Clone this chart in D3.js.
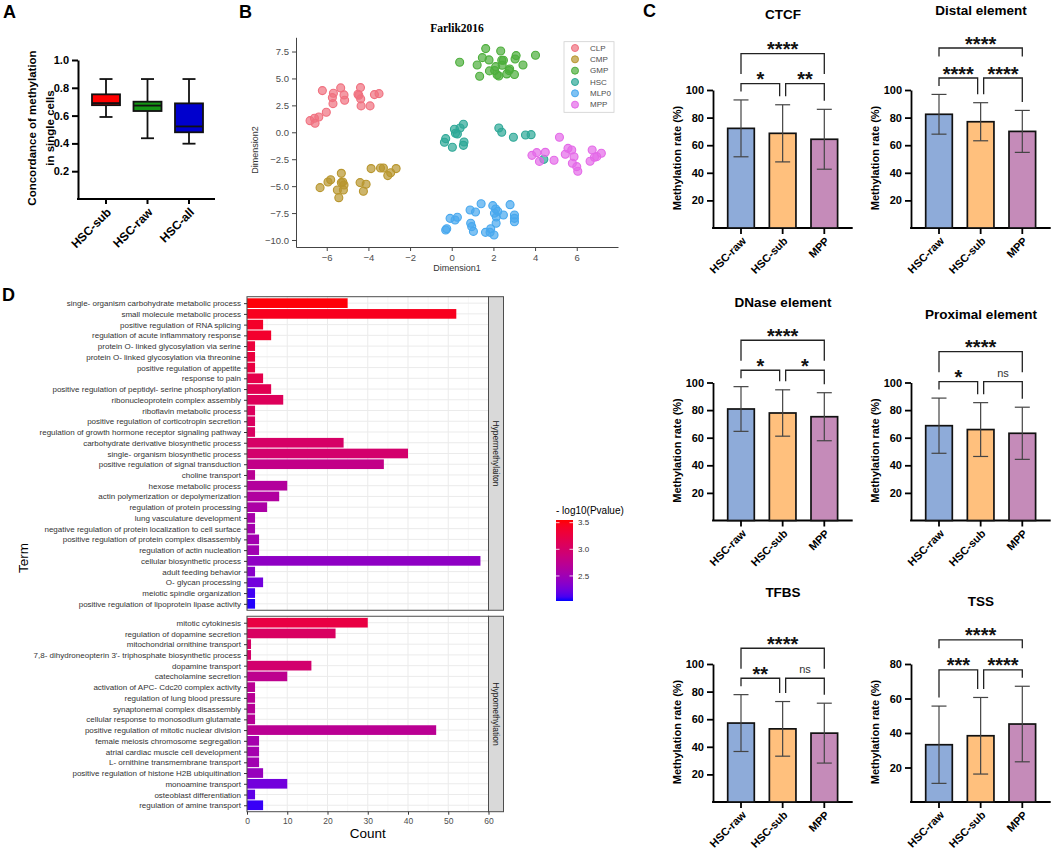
<!DOCTYPE html>
<html lang="en">
<head>
<meta charset="utf-8">
<title>Methylation figure</title>
<script src="https://cdn.jsdelivr.net/npm/d3@7"></script>
<style>
  body { margin: 0; background: #fff; }
  svg { display: block; font-family: "Liberation Sans", Arial, sans-serif; }
</style>
</head>
<body>
<svg id="fig" width="1052" height="850"></svg>
<script>
// ---------------- data ----------------
// A: concordance box plots (min, q1, median, q3, max)
const concGroups = ["HSC-sub", "HSC-raw", "HSC-all"];
const concStats = [
  [0.59, 0.675, 0.69, 0.753, 0.863],
  [0.437, 0.633, 0.672, 0.70, 0.863],
  [0.398, 0.48, 0.522, 0.688, 0.863]
];
const concColors = ["#ff0000", "#149414", "#0000cd"];
const concTicks = [0.2, 0.4, 0.6, 0.8, 1.0];

// B: Farlik2016 embedding, one array per cell type
const cellTypes = ["CLP", "CMP", "GMP", "HSC", "MLP0", "MPP"];
const cellColors = ["#f0707f", "#b8962e", "#4dae3c", "#2ea897", "#48a8ee", "#e46ae8"];
const clpPts = [[-6.8,1.08],[-6.59,1.30],[-6.56,0.84],[-6.38,1.42],[-6.02,1.86],[-6.21,3.87],[-5.73,3.22],
  [-5.70,2.66],[-5.68,3.62],[-5.33,4.12],[-5.17,3.47],[-5.14,2.97],[-4.50,3.53],[-4.38,4.15],[-4.37,3.10],
  [-4.46,3.44],[-4.35,2.45],[-3.92,2.45],[-3.71,3.50],[-3.49,3.59]];
const cmpPts = [[-6.32,-5.14],[-5.94,-4.61],[-5.81,-4.40],[-5.30,-3.81],[-5.23,-4.61],[-5.17,-4.89],[-5.20,-5.36],
  [-5.49,-5.36],[-5.42,-6.07],[-4.40,-4.67],[-4.11,-4.83],[-4.24,-5.48],[-3.87,-3.37],[-3.42,-3.31],[-3.28,-3.31],
  [-3.07,-4.02],[-2.93,-3.75],[-2.67,-3.37],[-5.30,-4.67]];
const gmpPts = [[0.38,6.50],[1.22,6.25],[1.47,6.93],[1.63,7.77],[1.79,6.72],[1.34,5.20],[1.81,5.70],[2.06,5.73],
  [2.11,6.10],[2.18,5.33],[2.26,5.23],[2.35,7.55],[2.40,6.69],[2.48,6.69],[2.42,6.22],[2.75,5.73],[2.78,5.88],
  [3.01,5.36],[3.09,7.12],[3.04,6.81],[3.42,6.25],[4.02,7.15],[2.64,5.42]];
const hscPts = [[-0.35,-0.93],[-0.29,-0.59],[0.03,-1.39],[0.13,0.28],[0.18,-0.09],[0.27,-0.15],[0.40,0.40],
  [0.56,0.74],[0.59,-0.90],[0.56,-1.21],[2.26,0.40],[2.40,0.0],[2.96,-0.46],[3.54,-0.25],[3.81,-0.22],[4.42,-2.51]];
const mlpPts = [[-0.29,-9.07],[-0.24,-8.95],[-0.08,-7.99],[0.16,-8.14],[0.27,-7.89],[0.88,-7.21],[1.14,-7.40],
  [0.91,-8.45],[0.96,-8.76],[1.04,-9.20],[1.41,-6.63],[1.62,-9.29],[1.87,-8.95],[1.97,-6.81],[2.05,-7.52],
  [2.11,-7.12],[2.14,-7.86],[2.13,-8.45],[2.03,-9.54],[2.21,-7.34],[2.48,-7.68],[2.80,-6.72],[3.01,-7.68],
  [3.01,-7.99],[3.01,-8.30],[1.84,-9.29]];
const mppPts = [[3.85,-2.14],[4.08,-1.89],[4.21,-2.70],[4.49,-1.86],[4.91,-2.60],[5.17,-0.46],[5.45,-2.04],
  [5.58,-1.49],[5.76,-1.64],[5.87,-2.27],[5.79,-2.88],[6.0,-3.19],[6.05,-3.62],[6.64,-2.69],[6.74,-1.64],
  [6.85,-2.32],[6.96,-2.26],[7.18,-1.95]];
const cellPts = [clpPts, cmpPts, gmpPts, hscPts, mlpPts, mppPts];

// C: methylation rate by genomic region (mean, sd)
const regionNames = ["CTCF", "Distal element", "DNase element", "Proximal element", "TFBS", "TSS"];
const sampleNames = ["HSC-raw", "HSC-sub", "MPP"];
const sampleColors = ["#8eabd9", "#ffc07d", "#c58bb9"];
const rateMeans = [[72.2,68.6,64.3],[82.4,77.0,70.0],[80.8,77.9,75.2],[68.7,65.9,63.2],[57.2,53.0,49.9],[33.2,38.4,45.2]];
const rateSD = [[20.6,20.7,21.7],[14.4,13.8,15.2],[16.2,16.8,17.4],[20.0,19.5,18.9],[20.6,19.8,21.7],[22.4,22.2,21.9]];
const rateMax = [100, 100, 100, 100, 100, 80];
const rateTicks = [[20,40,60,80,100],[20,40,60,80,100],[20,40,60,80,100],[20,40,60,80,100],[20,40,60,80,100],[20,40,60,80]];
// significance: raw vs sub, sub vs MPP, raw vs MPP
const sigLabels = [["*","**","****"],["****","****","****"],["*","*","****"],["*","ns","****"],["**","ns","****"],["***","****","****"]];

// D: GO terms
const hyperTerms = ["single- organism carbohydrate metabolic process","small molecule metabolic process",
  "positive regulation of RNA splicing","regulation of acute inflammatory response",
  "protein O- linked glycosylation via serine","protein O- linked glycosylation via threonine",
  "positive regulation of appetite","response to pain","positive regulation of peptidyl- serine phosphorylation",
  "ribonucleoprotein complex assembly","riboflavin metabolic process","positive regulation of corticotropin secretion",
  "regulation of growth hormone receptor signaling pathway","carbohydrate derivative biosynthetic process",
  "single- organism biosynthetic process","positive regulation of signal transduction","choline transport",
  "hexose metabolic process","actin polymerization or depolymerization","regulation of protein processing",
  "lung vasculature development","negative regulation of protein localization to cell surface",
  "positive regulation of protein complex disassembly","regulation of actin nucleation",
  "cellular biosynthetic process","adult feeding behavior","O- glycan processing","meiotic spindle organization",
  "positive regulation of lipoprotein lipase activity"];
const hyperCounts = [25,52,4,6,2,2,2,4,6,9,2,2,2,24,40,34,2,10,8,5,2,2,3,3,58,2,4,2,2];
const hyperLogP = [3.53,3.45,3.40,3.38,3.30,3.28,3.26,3.20,3.15,3.10,3.08,3.06,3.05,3.02,2.98,2.80,2.72,
  2.66,2.64,2.60,2.57,2.55,2.53,2.52,2.40,2.36,2.25,2.10,2.05];
const hypoTerms = ["mitotic cytokinesis","regulation of dopamine secretion","mitochondrial ornithine transport",
  "7,8- dihydroneopterin 3'- triphosphate biosynthetic process","dopamine transport","catecholamine secretion",
  "activation of APC- Cdc20 complex activity","regulation of lung blood pressure","synaptonemal complex disassembly",
  "cellular response to monosodium glutamate","positive regulation of mitotic nuclear division",
  "female meiosis chromosome segregation","atrial cardiac muscle cell development",
  "L- ornithine transmembrane transport","positive regulation of histone H2B ubiquitination",
  "monoamine transport","osteoblast differentiation","regulation of amine transport"];
const hypoCounts = [30,22,1,1,16,10,2,2,2,2,47,3,3,3,4,10,2,4];
const hypoLogP = [3.25,3.05,3.02,3.00,2.97,2.75,2.72,2.71,2.70,2.70,2.72,2.55,2.54,2.52,2.45,2.25,2.18,2.08];
const logPRange = [2.03, 3.55];
const logPTicks = [2.5, 3.0, 3.5];

// ---------------- drawing ----------------
const svg = d3.select("#fig");

function panelLabel(t, x, y) {
  svg.append("text").attr("x", x).attr("y", y).text(t)
    .attr("font-size", 18).attr("font-weight", "bold");
}
panelLabel("A", 3, 18);
panelLabel("B", 239, 18);
panelLabel("C", 643, 17);
panelLabel("D", 2, 301);

// ===== A =====
const aY = d3.scaleLinear().domain([0, 1]).range([199, 60]);
const aX = d3.scalePoint().domain(concGroups).range([106, 189]);
const gA = svg.append("g");
gA.append("g").attr("transform", "translate(78,0)")
  .call(d3.axisLeft(aY).tickValues(concTicks).tickFormat(d3.format(".1f")).tickSize(6).tickSizeOuter(0))
  .call(g => g.selectAll("path,line").attr("stroke", "#000").attr("stroke-width", 2))
  .call(g => g.selectAll("text").attr("font-size", 11).attr("font-weight", "bold").attr("fill", "#000")
    .attr("font-family", "Liberation Sans, Arial, sans-serif"));
gA.append("line").attr("x1", 77).attr("x2", 215).attr("y1", aY(0)).attr("y2", aY(0))
  .attr("stroke", "#000").attr("stroke-width", 2);
concGroups.forEach((g, i) => {
  const [mn, q1, md, q3, mx] = concStats[i];
  const cx = aX(g);
  gA.append("line").attr("x1", cx).attr("x2", cx).attr("y1", aY(0)).attr("y2", aY(0) + 5)
    .attr("stroke", "#000").attr("stroke-width", 2);
  gA.append("line").attr("x1", cx).attr("x2", cx).attr("y1", aY(mx)).attr("y2", aY(mn))
    .attr("stroke", "#111").attr("stroke-width", 1.8);
  [mn, mx].forEach(v => gA.append("line").attr("x1", cx - 6.5).attr("x2", cx + 6.5)
    .attr("y1", aY(v)).attr("y2", aY(v)).attr("stroke", "#111").attr("stroke-width", 1.8));
  gA.append("rect").attr("x", cx - 14).attr("width", 28).attr("y", aY(q3)).attr("height", aY(q1) - aY(q3))
    .attr("fill", concColors[i]).attr("stroke", "#111").attr("stroke-width", 1.8);
  gA.append("line").attr("x1", cx - 14).attr("x2", cx + 14).attr("y1", aY(md)).attr("y2", aY(md))
    .attr("stroke", "#111").attr("stroke-width", 1.8);
  gA.append("text").attr("transform", `translate(${cx + 3},${aY(0) + 11}) rotate(-45)`)
    .attr("text-anchor", "end").attr("dy", "0.35em").attr("font-size", 12).attr("font-weight", "bold").text(g);
});
gA.append("text").attr("transform", "translate(32,128) rotate(-90)").attr("text-anchor", "middle")
  .attr("dy", "0.35em").attr("font-size", 11.5).attr("font-weight", "bold").text("Concordance of methylation");
gA.append("text").attr("transform", "translate(50,128) rotate(-90)").attr("text-anchor", "middle")
  .attr("dy", "0.35em").attr("font-size", 11.5).attr("font-weight", "bold").text("in single cells");

// ===== B =====
const bX = d3.scaleLinear().domain([-7.475, 7.98]).range([296, 618]);
const bY = d3.scaleLinear().domain([-10.65, 8.82]).range([247, 37.3]);
const gB = svg.append("g");
const styleB = g => {
  g.selectAll("path,line").attr("stroke", "#444").attr("stroke-width", 1);
  g.selectAll("text").attr("font-size", 9.5).attr("fill", "#4d4d4d")
    .attr("font-family", "Liberation Sans, Arial, sans-serif");
};
gB.append("g").attr("transform", `translate(0,${bY.range()[0]})`)
  .call(d3.axisBottom(bX).tickValues([-6, -4, -2, 0, 2, 4, 6]).tickSize(4).tickSizeOuter(0)).call(styleB);
gB.append("g").attr("transform", `translate(${bX.range()[0]},0)`)
  .call(d3.axisLeft(bY).tickValues([-10, -7.5, -5, -2.5, 0, 2.5, 5, 7.5]).tickFormat(d3.format(".1f"))
    .tickSize(4).tickSizeOuter(0)).call(styleB);
cellTypes.forEach((c, i) => {
  gB.append("g").selectAll("circle").data(cellPts[i]).join("circle")
    .attr("cx", d => bX(d[0])).attr("cy", d => bY(d[1])).attr("r", 4)
    .attr("fill", cellColors[i]).attr("fill-opacity", 0.7)
    .attr("stroke", cellColors[i]).attr("stroke-width", 1.1);
});
gB.append("text").attr("x", 457).attr("y", 32).attr("text-anchor", "middle")
  .attr("font-family", "Liberation Serif, Times New Roman, serif").attr("font-weight", "bold")
  .attr("font-size", 11.5).text("Farlik2016");
gB.append("text").attr("x", 457).attr("y", 271).attr("text-anchor", "middle")
  .attr("font-size", 9).attr("fill", "#333").text("Dimension1");
gB.append("text").attr("transform", "translate(255,150) rotate(-90)").attr("text-anchor", "middle")
  .attr("dy", "0.35em").attr("font-size", 9).attr("fill", "#333").text("Dimension2");
// legend
const leg = gB.append("g");
leg.append("rect").attr("x", 564).attr("y", 41.7).attr("width", 50).attr("height", 70.6)
  .attr("fill", "#fff").attr("stroke", "#cfcfcf").attr("stroke-width", 0.8);
cellTypes.forEach((c, i) => {
  const y = 48 + i * 11.33;
  leg.append("circle").attr("cx", 575).attr("cy", y).attr("r", 3.5)
    .attr("fill", cellColors[i]).attr("fill-opacity", 0.7).attr("stroke", cellColors[i]).attr("stroke-width", 1);
  leg.append("text").attr("x", 590).attr("y", y).attr("dy", "0.35em")
    .attr("font-size", 8).attr("fill", "#4d4d4d").text(c);
});

// ===== C =====
const cCols = [713, 911];
const cRows = [228, 520.5, 802];
const cTitleY = [19, 15, 307, 319, 597, 606];
const gC = svg.append("g");
regionNames.forEach((name, k) => {
  const ax = cCols[k % 2], y0 = cRows[Math.floor(k / 2)];
  const y = d3.scaleLinear().domain([0, rateMax[k]]).range([y0, y0 - 138]);
  const x = d3.scalePoint().domain(sampleNames).range([ax + 28, ax + 111.3]);
  const g = gC.append("g");
  g.append("g").attr("transform", `translate(${ax},0)`)
    .call(d3.axisLeft(y).tickValues(rateTicks[k]).tickSize(6).tickSizeOuter(0))
    .call(s => s.selectAll("path,line").attr("stroke", "#000").attr("stroke-width", 1.8))
    .call(s => s.selectAll("text").attr("font-size", 11).attr("font-weight", "bold").attr("fill", "#000")
      .attr("font-family", "Liberation Sans, Arial, sans-serif"));
  g.append("line").attr("x1", ax - 0.9).attr("x2", ax + 139.7).attr("y1", y0).attr("y2", y0)
    .attr("stroke", "#000").attr("stroke-width", 1.8);
  const errTop = [];
  sampleNames.forEach((s, i) => {
    const cx = x(s), m = rateMeans[k][i], sd = rateSD[k][i];
    g.append("rect").attr("x", cx - 13.3).attr("width", 26.6).attr("y", y(m)).attr("height", y0 - y(m))
      .attr("fill", sampleColors[i]).attr("stroke", "#111").attr("stroke-width", 1.7);
    g.append("line").attr("x1", cx).attr("x2", cx).attr("y1", y(m + sd)).attr("y2", y(m - sd))
      .attr("stroke", "#444").attr("stroke-width", 1.2);
    [m + sd, m - sd].forEach(v => g.append("line").attr("x1", cx - 7.5).attr("x2", cx + 7.5)
      .attr("y1", y(v)).attr("y2", y(v)).attr("stroke", "#444").attr("stroke-width", 1.2));
    g.append("line").attr("x1", cx).attr("x2", cx).attr("y1", y0).attr("y2", y0 + 6)
      .attr("stroke", "#000").attr("stroke-width", 1.8);
    g.append("text").attr("transform", `translate(${cx + 3},${y0 + 11}) rotate(-45)`)
      .attr("text-anchor", "end").attr("dy", "0.35em").attr("font-size", 11).attr("font-weight", "bold").text(s);
    errTop.push(y(m + sd));
  });
  g.append("text").attr("transform", `translate(${ax - 35.5},${y0 - 70}) rotate(-90)`)
    .attr("text-anchor", "middle").attr("dy", "0.35em").attr("font-size", 11).attr("font-weight", "bold")
    .text("Methylation rate (%)");
  g.append("text").attr("x", ax + 70).attr("y", cTitleY[k]).attr("text-anchor", "middle")
    .attr("font-size", 13.5).attr("font-weight", "bold").text(name);
  // brackets
  const small = d3.min(errTop) - 16.4, big = small - 30;
  const cxs = sampleNames.map(s => x(s));
  const bracket = (x1, x2, yb, l1, l2, label) => {
    g.append("path").attr("d", `M${x1},${l1}V${yb}H${x2}V${l2}`)
      .attr("fill", "none").attr("stroke", "#222").attr("stroke-width", 1.3);
    const t = g.append("text").attr("x", (x1 + x2) / 2).attr("text-anchor", "middle").text(label);
    if (label === "ns") t.attr("y", yb - 5).attr("font-size", 11).attr("fill", "#333");
    else t.attr("y", yb + 2.5).attr("font-size", 20).attr("font-weight", "bold").attr("fill", "#111");
  };
  bracket(cxs[0], cxs[1] - 3, small, errTop[0] - 8.5, errTop[1] - 8.5, sigLabels[k][0]);
  bracket(cxs[1] + 3, cxs[2], small, errTop[1] - 8.5, errTop[2] - 8.5, sigLabels[k][1]);
  const tall = sigLabels[k][0] === "****" || sigLabels[k][1] === "****";
  const legEnd = tall ? big + 8.5 : big + 20.5;
  bracket(cxs[0], cxs[2], big, legEnd, legEnd, sigLabels[k][2]);
});

// ===== D =====
const gD = svg.append("g");
const dX = d3.scaleLinear().domain([0, 60]).range([247, 488.5]);
const dColor = d3.scaleLinear().domain(logPRange).range(["blue", "red"]).interpolate(d3.interpolateLab);
const unit = (811.7 - 296.7 - 6) / (hyperTerms.length + hypoTerms.length + 0.4);
const facets = [
  { terms: hyperTerms, counts: hyperCounts, logp: hyperLogP, name: "Hypermethylaiton", top: 296.7 },
  { terms: hypoTerms, counts: hypoCounts, logp: hypoLogP, name: "Hypomethylation" }
];
facets[1].top = facets[0].top + (hyperTerms.length + 0.2) * unit + 6;
facets.forEach(f => {
  const h = (f.terms.length + 0.2) * unit;
  const y = d3.scalePoint().domain(f.terms).range([f.top, f.top + h]).padding(0.6);
  const g = gD.append("g");
  g.append("rect").attr("x", dX(0)).attr("y", f.top).attr("width", dX(60) - dX(0)).attr("height", h)
    .attr("fill", "#fff");
  // grid
  d3.range(5, 60, 10).forEach(v => g.append("line").attr("x1", dX(v)).attr("x2", dX(v))
    .attr("y1", f.top).attr("y2", f.top + h).attr("stroke", "#f2f2f2").attr("stroke-width", 0.6));
  d3.range(0, 61, 10).forEach(v => g.append("line").attr("x1", dX(v)).attr("x2", dX(v))
    .attr("y1", f.top).attr("y2", f.top + h).attr("stroke", "#ebebeb").attr("stroke-width", 1));
  g.selectAll(".hg").data(f.terms).join("line").attr("x1", dX(0)).attr("x2", dX(60))
    .attr("y1", d => y(d)).attr("y2", d => y(d)).attr("stroke", "#ebebeb").attr("stroke-width", 1);
  // bars
  g.selectAll(".bar").data(f.terms).join("rect")
    .attr("x", dX(0)).attr("y", d => y(d) - 0.45 * unit).attr("height", 0.9 * unit)
    .attr("width", (d, i) => dX(f.counts[i]) - dX(0))
    .attr("fill", (d, i) => dColor(f.logp[i]));
  // border + strip
  g.append("rect").attr("x", dX(0)).attr("y", f.top).attr("width", dX(60) - dX(0)).attr("height", h)
    .attr("fill", "none").attr("stroke", "#4d4d4d").attr("stroke-width", 1);
  g.append("rect").attr("x", dX(60)).attr("y", f.top).attr("width", 15).attr("height", h)
    .attr("fill", "#d9d9d9").attr("stroke", "#4d4d4d").attr("stroke-width", 1);
  g.append("text").attr("transform", `translate(${dX(60) + 7.5},${f.top + h / 2}) rotate(90)`)
    .attr("text-anchor", "middle").attr("dy", "0.35em").attr("font-size", 8.5).attr("fill", "#1a1a1a")
    .text(f.name);
  // y axis
  g.append("g").attr("transform", `translate(${dX(0)},0)`)
    .call(d3.axisLeft(y).tickSize(3).tickSizeOuter(0))
    .call(s => s.select(".domain").remove())
    .call(s => s.selectAll("line").attr("stroke", "#333"))
    .call(s => s.selectAll("text").attr("font-size", 8).attr("fill", "#333")
      .attr("font-family", "Liberation Sans, Arial, sans-serif"));
  f.bottom = f.top + h;
});
gD.append("g").attr("transform", `translate(0,${facets[1].bottom})`)
  .call(d3.axisBottom(dX).tickValues(d3.range(0, 61, 10)).tickSize(3).tickSizeOuter(0))
  .call(s => s.select(".domain").remove())
  .call(s => s.selectAll("line").attr("stroke", "#333"))
  .call(s => s.selectAll("text").attr("font-size", 8.5).attr("fill", "#4d4d4d")
    .attr("font-family", "Liberation Sans, Arial, sans-serif"));
gD.append("text").attr("x", dX(30)).attr("y", 838).attr("text-anchor", "middle")
  .attr("font-size", 13.5).text("Count");
gD.append("text").attr("transform", "translate(23,558) rotate(-90)").attr("text-anchor", "middle")
  .attr("dy", "0.35em").attr("font-size", 13.5).text("Term");
// colour bar
const cbY = d3.scaleLinear().domain(logPRange).range([601, 520]);
const defs = svg.append("defs");
const grad = defs.append("linearGradient").attr("id", "cb").attr("x1", 0).attr("x2", 0).attr("y1", 1).attr("y2", 0);
d3.range(0, 1.001, 0.05).forEach(t => grad.append("stop").attr("offset", t)
  .attr("stop-color", dColor(logPRange[0] + t * (logPRange[1] - logPRange[0]))));
gD.append("rect").attr("x", 556).attr("y", 520).attr("width", 17).attr("height", 81).attr("fill", "url(#cb)");
logPTicks.forEach(v => {
  gD.append("line").attr("x1", 556).attr("x2", 559.5).attr("y1", cbY(v)).attr("y2", cbY(v))
    .attr("stroke", "#fff").attr("stroke-width", 0.8);
  gD.append("line").attr("x1", 569.5).attr("x2", 573).attr("y1", cbY(v)).attr("y2", cbY(v))
    .attr("stroke", "#fff").attr("stroke-width", 0.8);
  gD.append("text").attr("x", 578).attr("y", cbY(v)).attr("dy", "0.35em").attr("font-size", 8)
    .attr("fill", "#333").text(v.toFixed(1));
});
gD.append("text").attr("x", 556).attr("y", 514).attr("font-size", 10).text("- log10(Pvalue)");
</script>
</body>
</html>
